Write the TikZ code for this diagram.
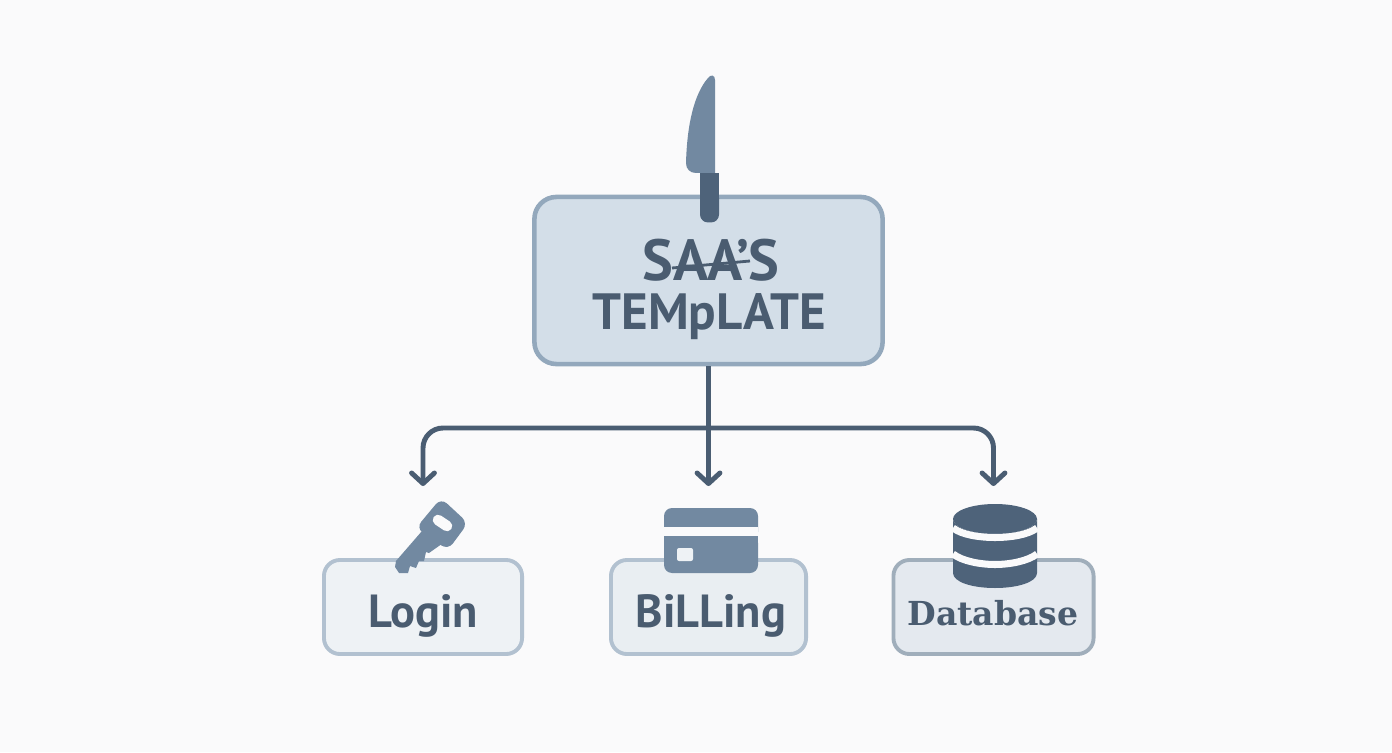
\documentclass[tikz,border=0pt]{standalone}
\usepackage{fontspec}
\setmainfont{PT Sans}
\newfontfamily\slabfont{DejaVu Serif}
\usetikzlibrary{positioning,arrows.meta}
\definecolor{pagebg}{HTML}{FAFAFB}
\definecolor{ink}{HTML}{4A5C70}
\definecolor{wirecol}{HTML}{4A5D72}
\definecolor{iconlight}{HTML}{7289A1}
\definecolor{icondark}{HTML}{4E637A}
\definecolor{mainfill}{HTML}{D3DEE8}
\definecolor{mainline}{HTML}{93A8BC}
\definecolor{loginfill}{HTML}{EEF2F5}
\definecolor{billfill}{HTML}{E9EEF2}
\definecolor{basefill}{HTML}{E4E9EF}
\definecolor{subline}{HTML}{B2C1D0}
\tikzset{
    mainbox/.style={draw=mainline, fill=mainfill, line width=1.3pt, rounded corners=0.22cm, minimum width=3.48cm, minimum height=1.67cm},
    subbox/.style={draw=subline, line width=1.1pt, rounded corners=0.16cm, minimum height=0.94cm},
    boxlabel/.style={text=ink, font=\bfseries\fontsize{13.2}{15}\selectfont, inner sep=0pt},
    wire/.style={draw=wirecol, line width=1.4pt, rounded corners=0.2cm},
    wiretip/.style={-{Straight Barb[length=3pt,width=6.5pt,round]}}
}
\begin{document}
\begin{tikzpicture}[x=0.01cm,y=-0.01cm]
    \fill[pagebg] (0,0) rectangle (1392,752);

    \node[mainbox] (main) at (708.5,280.5) {};
    \node[subbox, fill=loginfill, minimum width=1.98cm] (login) at (423,607) {};
    \node[subbox, fill=billfill, minimum width=1.95cm] (billing) at (708.5,607) {};
    \node[subbox, fill=basefill, minimum width=2.00cm, draw=subline!90!black] (database) at (993.5,607) {};

    \node[text=ink, font=\bfseries\fontsize{16.5}{17}\selectfont, inner sep=0pt] (saas) at (711,260) {SAA'S};
    \node[text=ink, font=\bfseries\fontsize{14.5}{17}\selectfont, inner sep=0pt, anchor=base] (template) at (709,329) {TEMpLATE};
    \draw[ink, line width=0.8pt] (672,268) -- (750,261);
    \node[boxlabel, anchor=base] (loginlabel) at (423,627) {Login};
    \node[boxlabel, anchor=base] (billinglabel) at (711,627) {BiLLing};
    \node[boxlabel, anchor=base, font=\slabfont\bfseries\fontsize{9.4}{12}\selectfont] (databaselabel) at (993,625) {Database};

    % connectors
    \coordinate (hub) at (708.5,428);
    \coordinate[above=0.72cm of login.north] (logintip);
    \coordinate[above=0.72cm of billing.north] (billingtip);
    \coordinate[above=0.72cm of database.north] (databasetip);
    \draw[wire, wiretip] (main.south) -- (billingtip);
    \draw[wire, wiretip] (hub) -| (logintip);
    \draw[wire, wiretip] (hub) -| (databasetip);

    % knife
    \fill[iconlight] (715,173) -- (715,80) .. controls (715,75) and (711,74) .. (708,78)
        .. controls (694,94) and (687,125) .. (686,163)
        .. controls (686,169) and (690,173) .. (696,173) -- cycle;
    \fill[icondark, rounded corners=0.08cm] (700,190) -- (700,222.5) -- (719,222.5) -- (719,190) -- cycle;
    \fill[icondark] (700,173) rectangle (719,200);

    % key
    \fill[iconlight] (422,531) -- (396,561) -- (395,567) -- (399,573) -- (408,573) -- (410,566)
        -- (416,568) -- (419,561) -- (424,561) -- (426,552) -- (429,553) -- (446,541) -- cycle;
    \fill[iconlight, rounded corners=0.08cm] (441,498) -- (468,523) -- (448,550) -- (416,528) -- cycle;
    \draw[pagebg, line width=3pt, line cap=round] (438,520) -- (447,526);

    % card
    \fill[iconlight, rounded corners=0.08cm] (664,535) rectangle (758,573);
    \fill[iconlight, rounded corners=0.08cm] (664,508) rectangle (758,540);
    \fill[pagebg] (664,526.5) rectangle (758,536);
    \fill[iconlight] (664,536) rectangle (758,550);
    \fill[loginfill, rounded corners=0.02cm] (677,548) rectangle (693,561);

    % cylinder
    \fill[icondark] (953,519) arc[start angle=180, end angle=360, x radius=42, y radius=-15]
        -- (1037,573) .. controls (1037,582) and (1018,588) .. (995,588)
        .. controls (972,588) and (953,582) .. (953,573) -- cycle;
    \fill[icondark] (995,519) ellipse[x radius=42, y radius=15];
    \draw[pagebg, line width=2pt] (953,528) .. controls (962,535) and (980,537.5) .. (995,537.5)
        .. controls (1010,537.5) and (1028,535) .. (1037,528);
    \draw[pagebg, line width=2pt] (953,554) .. controls (962,561) and (980,564.5) .. (995,564.5)
        .. controls (1010,564.5) and (1028,561) .. (1037,554);
\end{tikzpicture}
\end{document}
